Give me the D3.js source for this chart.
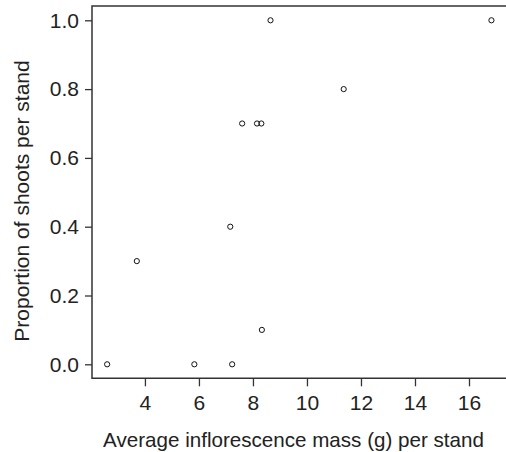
<!DOCTYPE html>
<html>
<head>
<meta charset="utf-8">
<script src="https://cdn.jsdelivr.net/npm/d3@7"></script>
<style>
  body { margin: 0; background: #fff; }
  text { font-family: "Liberation Sans", Arial, sans-serif; fill: #222; }
</style>
</head>
<body>
<div id="chart"></div>
<script>
// average inflorescence mass (g) per stand
const massValues = [2.6, 3.7, 5.83, 7.23, 8.33, 7.16, 7.6, 8.15, 8.31, 8.65, 11.36, 16.83];
// proportion of shoots per stand
const propValues = [0.0, 0.3, 0.0, 0.0, 0.1, 0.4, 0.7, 0.7, 0.7, 1.0, 0.8, 1.0];
const xTicks = [4, 6, 8, 10, 12, 14, 16];
const yTicks = [0.0, 0.2, 0.4, 0.6, 0.8, 1.0];

const width = 506, height = 452,
    margin = {left: 92, top: 6, right: 0, bottom: 74};

const svg = d3.select("#chart").append("svg")
    .attr("width", width)
    .attr("height", height);

// x axis: roughly 27px per gram, runs off the right edge of the page
const xScale = d3.scaleLinear()
    .domain([2.04, 17.37])
    .range([margin.left, width]);

const yScale = d3.scaleLinear().domain([0, 1]).range([364.3, 20.3]);

const plotBottom = height - margin.bottom + 0.3;

// frame: left, top, bottom (right side runs off the page)
svg.append("path")
    .attr("d", `M${width + 2},${margin.top}H${margin.left}V${plotBottom}H${width + 2}`)
    .attr("fill", "none")
    .attr("stroke", "#333")
    .attr("stroke-width", 1.5);

const xAxis = svg.append("g")
    .attr("transform", `translate(0,${plotBottom})`)
    .call(d3.axisBottom(xScale).tickValues(xTicks).tickSize(8).tickPadding(9).tickFormat(d3.format("d")));
xAxis.select(".domain").remove();
xAxis.selectAll("line").attr("stroke", "#333").attr("stroke-width", 1.3);
xAxis.selectAll("text").style("font-size", "21px").attr("fill", "#222");

const yAxis = svg.append("g")
    .attr("transform", `translate(${margin.left},0)`)
    .call(d3.axisLeft(yScale).tickValues(yTicks).tickSize(7).tickPadding(6).tickFormat(d3.format(".1f")));
yAxis.select(".domain").remove();
yAxis.selectAll("line").attr("stroke", "#333").attr("stroke-width", 1.3);
yAxis.selectAll("text").style("font-size", "21px").attr("fill", "#222");

// points
svg.append("g").selectAll("circle")
    .data(massValues.map((m, i) => ({x: m, y: propValues[i]})))
    .join("circle")
    .attr("cx", d => xScale(d.x))
    .attr("cy", d => yScale(d.y))
    .attr("r", 2.6)
    .attr("fill", "none")
    .attr("stroke", "#111")
    .attr("stroke-width", 1);

// axis titles
svg.append("text")
    .attr("x", 293.5)
    .attr("y", 446.7)
    .attr("text-anchor", "middle")
    .style("font-size", "20.6px")
    .text("Average inflorescence mass (g) per stand");

svg.append("text")
    .attr("transform", "translate(29,201) rotate(-90)")
    .attr("text-anchor", "middle")
    .style("font-size", "21px")
    .text("Proportion of shoots per stand");
</script>
</body>
</html>
